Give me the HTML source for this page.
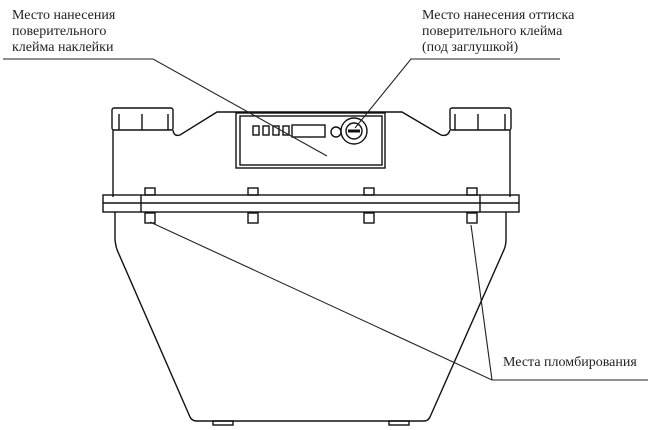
<!DOCTYPE html>
<html><head><meta charset="utf-8"><style>
html,body{margin:0;padding:0;background:#fff}
svg{display:block}
text{font-family:"Liberation Serif",serif;font-size:14px;fill:#222}
</style></head><body>
<svg width="650" height="430" viewBox="0 0 650 430" xmlns="http://www.w3.org/2000/svg">
<g fill="none" stroke="#111" stroke-width="1.4">
<rect x="112" y="108" width="61" height="22" rx="2"/>
<line x1="119" y1="114" x2="119" y2="130"/><line x1="142" y1="114" x2="142" y2="130"/><line x1="168" y1="114" x2="168" y2="130"/>
<rect x="450" y="108" width="61" height="22" rx="2"/>
<line x1="455" y1="114" x2="455" y2="130"/><line x1="478" y1="114" x2="478" y2="130"/><line x1="505" y1="114" x2="505" y2="130"/>
<path d="M113,130 L113,197 M510,130 L510,197"/>
<path d="M173,130 Q174,137 180,135 L217,112 L402,112 L441,135 Q448,137 450,130"/>
<rect x="236" y="113" width="149" height="55"/>
<rect x="240" y="116" width="142" height="49"/>
<rect x="253" y="126" width="6" height="9"/><rect x="263" y="126" width="6" height="9"/><rect x="273" y="126" width="6" height="9"/><rect x="283" y="126" width="6" height="9"/>
<rect x="292" y="125" width="33" height="12"/>
<circle cx="336" cy="132" r="5"/>
<circle cx="354" cy="131" r="13"/><circle cx="354" cy="131" r="8"/>
<path d="M348,131 L360,131" stroke-width="3"/>
<rect x="103" y="195" width="416" height="17"/>
<line x1="103" y1="203" x2="519" y2="203"/>
<line x1="141" y1="195" x2="141" y2="212"/><line x1="480" y1="195" x2="480" y2="212"/>
<rect x="145" y="188" width="10" height="7"/><rect x="248" y="188" width="10" height="7"/><rect x="364" y="188" width="10" height="7"/><rect x="467" y="188" width="10" height="7"/>
<rect x="145" y="213" width="10" height="10"/><rect x="248" y="213" width="10" height="10"/><rect x="364" y="213" width="10" height="10"/><rect x="467" y="213" width="10" height="10"/>
<path d="M115,212 L115,240 Q116,248 118,252 L190,417 Q192,421 197,421 L424,421 Q428,421 430,417 L503,252 Q506,246 506,240 L506,212"/>
<rect x="213" y="421" width="20" height="4"/><rect x="389" y="421" width="20" height="4"/>
</g>
<g fill="none" stroke="#222" stroke-width="1.1">
<polyline points="3,59 153,59 327,156"/>
<polyline points="560,59 411,59 355,128"/>
<polyline points="150,222 492,380 648,380"/>
<line x1="471" y1="225" x2="492" y2="380"/>
</g>
<text x="12" y="19">Место нанесения</text>
<text x="12" y="35">поверительного</text>
<text x="12" y="51">клейма наклейки</text>
<text x="422" y="19">Место нанесения оттиска</text>
<text x="422" y="35">поверительного клейма</text>
<text x="422" y="51">(под заглушкой)</text>
<text x="503" y="366">Места пломбирования</text>
</svg>
</body></html>
